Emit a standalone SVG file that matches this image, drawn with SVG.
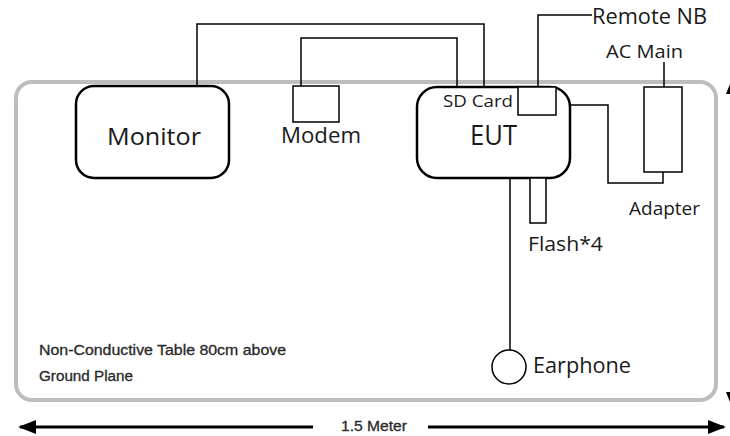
<svg xmlns="http://www.w3.org/2000/svg" width="730" height="436" viewBox="0 0 730 436">
<defs>
<style>
.dev{fill:#fff;stroke:#000;stroke-width:2.5}
.box{fill:#fff;stroke:#000;stroke-width:1.5}
.wire{fill:none;stroke:#000;stroke-width:1.5}
.lbl{font-family:"Open Sans","Liberation Sans",sans-serif;fill:#1a1a1a}
.note{font-family:"Liberation Sans",sans-serif;fill:#2a2a2a;font-size:14px;stroke:#2a2a2a;stroke-width:0.3}
</style>
<marker id="ah" viewBox="0 0 10 10" refX="9" refY="5" markerWidth="6" markerHeight="6" orient="auto-start-reverse" markerUnits="strokeWidth">
<path d="M0,1 L10,5 L0,9 z" fill="#000"/>
</marker>
</defs>
<rect width="730" height="436" fill="#fff"/>
<g id="table">
<rect x="16" y="82" width="700" height="318" rx="16" fill="none" stroke="#bdbdbd" stroke-width="4"/>
<text class="note" x="39" y="355" textLength="247" lengthAdjust="spacingAndGlyphs">Non-Conductive Table 80cm above</text>
<text class="note" x="39" y="381" textLength="94" lengthAdjust="spacingAndGlyphs">Ground Plane</text>
</g>
<g id="connectors">
<polyline class="wire" points="197,86 197,24 484,24 484,87"/>
<polyline class="wire" points="301,86 301,38 457,38 457,87"/>
<polyline class="wire" points="538,87 538,15 592,15"/>
<polyline class="wire" points="664,62 664,87"/>
<polyline class="wire" points="570,105 608,105 608,183 663,183 663,172"/>
<line class="wire" x1="510" y1="178" x2="510" y2="350"/>
</g>
<g id="monitor">
<rect class="dev" x="76" y="86" width="153" height="92" rx="18"/>
<text class="lbl" x="107" y="145" font-size="24" textLength="94" lengthAdjust="spacingAndGlyphs">Monitor</text>
</g>
<g id="modem">
<rect class="box" x="293" y="86" width="46" height="36"/>
<text class="lbl" x="281" y="143" font-size="21" textLength="80" lengthAdjust="spacingAndGlyphs">Modem</text>
</g>
<g id="eut">
<rect class="dev" x="417" y="87" width="153" height="91" rx="20"/>
<text class="lbl" x="470" y="145" font-size="27" textLength="47" lengthAdjust="spacingAndGlyphs">EUT</text>
<text class="lbl" x="443" y="107" font-size="17" textLength="70" lengthAdjust="spacingAndGlyphs">SD Card</text>
</g>
<g id="sdcard">
<rect class="box" x="518" y="87" width="38" height="28"/>
</g>
<g id="remote-nb">
<text class="lbl" x="592" y="24" font-size="22" textLength="115" lengthAdjust="spacingAndGlyphs">Remote NB</text>
</g>
<g id="ac-main">
<text class="lbl" x="606" y="58" font-size="19" textLength="77" lengthAdjust="spacingAndGlyphs">AC Main</text>
</g>
<g id="adapter">
<rect class="box" x="644" y="87" width="38" height="85"/>
<text class="lbl" x="629" y="215" font-size="19" textLength="71" lengthAdjust="spacingAndGlyphs">Adapter</text>
</g>
<g id="flash">
<rect class="box" x="530" y="178" width="16" height="45"/>
<text class="lbl" x="528" y="251" font-size="20" textLength="75" lengthAdjust="spacingAndGlyphs">Flash*4</text>
</g>
<g id="earphone">
<ellipse cx="509" cy="367" rx="17" ry="17" fill="#fff" stroke="#000" stroke-width="1.5"/>
<text class="lbl" x="533" y="373" font-size="21" textLength="98" lengthAdjust="spacingAndGlyphs">Earphone</text>
</g>
<g id="dimension">
<line x1="313" y1="427" x2="20" y2="427" stroke="#000" stroke-width="3" marker-end="url(#ah)"/>
<line x1="428" y1="427" x2="724" y2="427" stroke="#000" stroke-width="3" marker-end="url(#ah)"/>
<text class="note" x="341" y="431" textLength="66" lengthAdjust="spacingAndGlyphs">1.5 Meter</text>
<path d="M726,94 L730,84 L730,94 z" fill="#000"/>
<path d="M726,392 L730,402 L730,392 z" fill="#000"/>
</g>
</svg>
